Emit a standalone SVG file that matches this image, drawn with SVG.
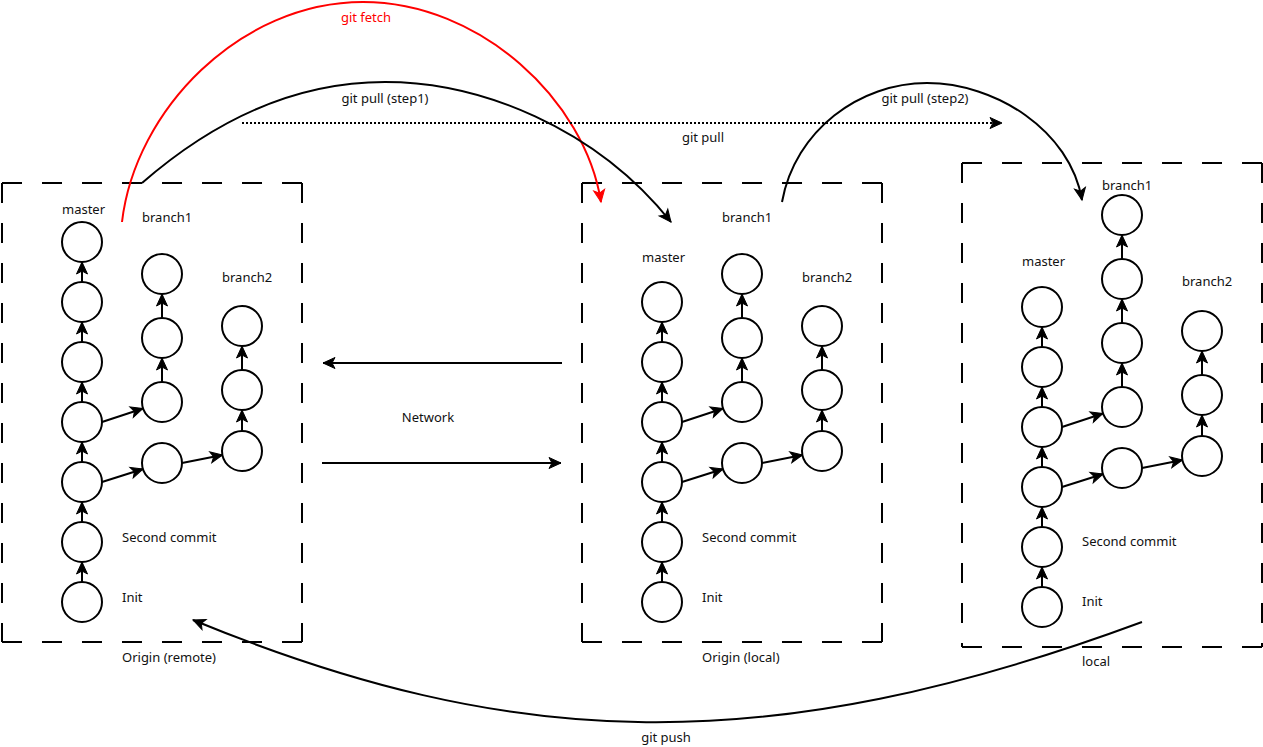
<svg xmlns="http://www.w3.org/2000/svg" width="1263" height="747" viewBox="0 0 1263 747">
<defs>
<marker id="arr" markerWidth="16" markerHeight="16" viewBox="-14 -8 16 16" refX="0" refY="0" orient="auto" markerUnits="userSpaceOnUse">
<path d="M0,0 L-12,-5.5 L-9,0 L-12,5.5 Z" fill="#000" stroke="#000" stroke-width="1" stroke-linejoin="miter"/>
</marker>
<marker id="arrRed" markerWidth="16" markerHeight="16" viewBox="-14 -8 16 16" refX="0" refY="0" orient="auto" markerUnits="userSpaceOnUse">
<path d="M0,0 L-12,-5.5 L-9,0 L-12,5.5 Z" fill="#ff0000" stroke="#ff0000" stroke-width="1"/>
</marker>
<style>
.c{fill:#fff;stroke:#000;stroke-width:2}
.box{stroke:#000;stroke-width:2;stroke-dasharray:20 20;fill:none}
.e{stroke:#000;stroke-width:2;fill:none;marker-end:url(#arr)}
.curve{stroke:#000;stroke-width:2;fill:none;marker-end:url(#arr)}
.t{font-family:"Noto Sans","Open Sans","DejaVu Sans",sans-serif;font-size:13px;fill:#111}
.tm{text-anchor:middle}
</style>
</defs>
<rect width="1263" height="747" fill="#fff"/>

<!-- Boxes -->
<g id="box-remote">
<path class="box" d="M2,183 H302 M302,183 V642 M2,642 H302 M2,183 V642"/>
<text class="t" x="122" y="662">Origin (remote)</text>
</g>
<g id="box-origin-local">
<path class="box" d="M582,183 H882 M882,183 V642 M582,642 H882 M582,183 V642"/>
<text class="t" x="702" y="662">Origin (local)</text>
</g>
<g id="box-local">
<path class="box" d="M962,163 H1262 M1262,163 V647 M962,647 H1262 M962,163 V647"/>
<text class="t" x="1082" y="666">local</text>
</g>

<!-- Connectors -->
<g id="connectors">
<!-- remote commits -->
<line class="e" x1="82" y1="582" x2="82" y2="562"/>
<line class="e" x1="82" y1="522" x2="82" y2="502"/>
<line class="e" x1="82" y1="462" x2="82" y2="442"/>
<line class="e" x1="82" y1="402" x2="82" y2="382"/>
<line class="e" x1="82" y1="342" x2="82" y2="322"/>
<line class="e" x1="82" y1="282" x2="82" y2="262"/>
<line class="e" x1="162" y1="382" x2="162" y2="358"/>
<line class="e" x1="162" y1="318" x2="162" y2="294"/>
<line class="e" x1="242" y1="431" x2="242" y2="410"/>
<line class="e" x1="242" y1="370" x2="242" y2="346"/>
<line class="e" x1="102" y1="422" x2="143" y2="408.5"/>
<line class="e" x1="102" y1="482" x2="143" y2="469"/>
<line class="e" x1="182" y1="463" x2="222.5" y2="455"/>
<!-- origin local commits -->
<line class="e" x1="662" y1="582" x2="662" y2="562"/>
<line class="e" x1="662" y1="522" x2="662" y2="502"/>
<line class="e" x1="662" y1="462" x2="662" y2="442"/>
<line class="e" x1="662" y1="402" x2="662" y2="382"/>
<line class="e" x1="662" y1="342" x2="662" y2="322"/>
<line class="e" x1="742" y1="382" x2="742" y2="358"/>
<line class="e" x1="742" y1="318" x2="742" y2="294"/>
<line class="e" x1="822" y1="431" x2="822" y2="410"/>
<line class="e" x1="822" y1="370" x2="822" y2="346"/>
<line class="e" x1="682" y1="422" x2="723" y2="408.5"/>
<line class="e" x1="682" y1="482" x2="723" y2="469"/>
<line class="e" x1="762" y1="463" x2="802.5" y2="455"/>
<!-- local commits -->
<line class="e" x1="1042" y1="587" x2="1042" y2="567"/>
<line class="e" x1="1042" y1="527" x2="1042" y2="507"/>
<line class="e" x1="1042" y1="467" x2="1042" y2="447"/>
<line class="e" x1="1042" y1="407" x2="1042" y2="387"/>
<line class="e" x1="1042" y1="347" x2="1042" y2="327"/>
<line class="e" x1="1122" y1="387" x2="1122" y2="363"/>
<line class="e" x1="1122" y1="323" x2="1122" y2="299"/>
<line class="e" x1="1122" y1="259" x2="1122" y2="235"/>
<line class="e" x1="1202" y1="436" x2="1202" y2="415"/>
<line class="e" x1="1202" y1="375" x2="1202" y2="351"/>
<line class="e" x1="1062" y1="427" x2="1103" y2="413.5"/>
<line class="e" x1="1062" y1="487" x2="1103" y2="474"/>
<line class="e" x1="1142" y1="468" x2="1182.5" y2="460"/>

<!-- network -->
<line class="e" x1="562" y1="363" x2="323" y2="363"/>
<line class="e" x1="322" y1="463" x2="561" y2="463"/>
<text class="t tm" x="428" y="422">Network</text>

<!-- git fetch -->
<path d="M122,222 C135,110 240,2 363,2 C480,2 585,100 601,202" stroke="#ff0000" stroke-width="2" fill="none" marker-end="url(#arrRed)"/>
<text class="t tm" x="366" y="22" style="fill:#ff0000">git fetch</text>

<!-- git pull (step1) -->
<path class="curve" d="M142,183 C220,115 300,82 385,82 C480,82 595,127 671,222"/>
<text class="t tm" x="385" y="103">git pull (step1)</text>

<!-- git pull dotted -->
<line x1="242" y1="123" x2="1002" y2="123" stroke="#000" stroke-width="2" stroke-dasharray="2 2" marker-end="url(#arr)"/>
<text class="t tm" x="703" y="142">git pull</text>

<!-- git pull (step2) -->
<path class="curve" d="M782,202 C795,130 860,83 927,83 C995,83 1070,130 1082,200"/>
<text class="t tm" x="925" y="103">git pull (step2)</text>

<!-- git push -->
<path class="curve" d="M1142,622 C766,761 512,751 193,620"/>
<text class="t tm" x="666" y="742">git push</text>
</g>

<!-- Origin (remote) nodes -->
<g id="remote">
<g id="r-m1"><circle class="c" cx="82" cy="602" r="20"/></g>
<g id="r-m2"><circle class="c" cx="82" cy="542" r="20"/></g>
<g id="r-m3"><circle class="c" cx="82" cy="482" r="20"/></g>
<g id="r-m4"><circle class="c" cx="82" cy="422" r="20"/></g>
<g id="r-m5"><circle class="c" cx="82" cy="362" r="20"/></g>
<g id="r-m6"><circle class="c" cx="82" cy="302" r="20"/></g>
<g id="r-m7"><circle class="c" cx="82" cy="242" r="20"/></g>
<g id="r-b1a"><circle class="c" cx="162" cy="402" r="20"/></g>
<g id="r-b1b"><circle class="c" cx="162" cy="338" r="20"/></g>
<g id="r-b1c"><circle class="c" cx="162" cy="274" r="20"/></g>
<g id="r-b2x"><circle class="c" cx="162" cy="463" r="20"/></g>
<g id="r-b2a"><circle class="c" cx="242" cy="451" r="20"/></g>
<g id="r-b2b"><circle class="c" cx="242" cy="390" r="20"/></g>
<g id="r-b2c"><circle class="c" cx="242" cy="326" r="20"/></g>
<text class="t" x="62" y="214">master</text>
<text class="t" x="142" y="222">branch1</text>
<text class="t" x="222" y="282">branch2</text>
<text class="t" x="122" y="542">Second commit</text>
<text class="t" x="122" y="602">Init</text>
</g>

<!-- Origin (local) nodes -->
<g id="origin-local">
<g id="o-m1"><circle class="c" cx="662" cy="602" r="20"/></g>
<g id="o-m2"><circle class="c" cx="662" cy="542" r="20"/></g>
<g id="o-m3"><circle class="c" cx="662" cy="482" r="20"/></g>
<g id="o-m4"><circle class="c" cx="662" cy="422" r="20"/></g>
<g id="o-m5"><circle class="c" cx="662" cy="362" r="20"/></g>
<g id="o-m6"><circle class="c" cx="662" cy="302" r="20"/></g>
<g id="o-b1a"><circle class="c" cx="742" cy="402" r="20"/></g>
<g id="o-b1b"><circle class="c" cx="742" cy="338" r="20"/></g>
<g id="o-b1c"><circle class="c" cx="742" cy="274" r="20"/></g>
<g id="o-b2x"><circle class="c" cx="742" cy="463" r="20"/></g>
<g id="o-b2a"><circle class="c" cx="822" cy="451" r="20"/></g>
<g id="o-b2b"><circle class="c" cx="822" cy="390" r="20"/></g>
<g id="o-b2c"><circle class="c" cx="822" cy="326" r="20"/></g>
<text class="t" x="642" y="262">master</text>
<text class="t" x="722" y="222">branch1</text>
<text class="t" x="802" y="282">branch2</text>
<text class="t" x="702" y="542">Second commit</text>
<text class="t" x="702" y="602">Init</text>
</g>

<!-- local nodes -->
<g id="local">
<g id="l-m1"><circle class="c" cx="1042" cy="607" r="20"/></g>
<g id="l-m2"><circle class="c" cx="1042" cy="547" r="20"/></g>
<g id="l-m3"><circle class="c" cx="1042" cy="487" r="20"/></g>
<g id="l-m4"><circle class="c" cx="1042" cy="427" r="20"/></g>
<g id="l-m5"><circle class="c" cx="1042" cy="367" r="20"/></g>
<g id="l-m6"><circle class="c" cx="1042" cy="307" r="20"/></g>
<g id="l-b1a"><circle class="c" cx="1122" cy="407" r="20"/></g>
<g id="l-b1b"><circle class="c" cx="1122" cy="343" r="20"/></g>
<g id="l-b1c"><circle class="c" cx="1122" cy="279" r="20"/></g>
<g id="l-b1d"><circle class="c" cx="1122" cy="215" r="20"/></g>
<g id="l-b2x"><circle class="c" cx="1122" cy="468" r="20"/></g>
<g id="l-b2a"><circle class="c" cx="1202" cy="456" r="20"/></g>
<g id="l-b2b"><circle class="c" cx="1202" cy="395" r="20"/></g>
<g id="l-b2c"><circle class="c" cx="1202" cy="331" r="20"/></g>
<text class="t" x="1022" y="266">master</text>
<text class="t" x="1102" y="190">branch1</text>
<text class="t" x="1182" y="286">branch2</text>
<text class="t" x="1082" y="546">Second commit</text>
<text class="t" x="1082" y="606">Init</text>
</g>
</svg>
